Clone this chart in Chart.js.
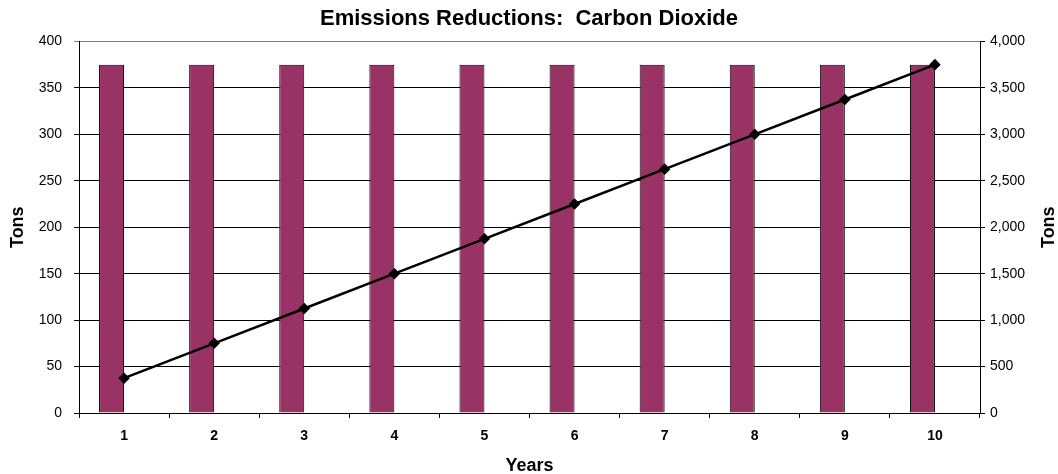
<!DOCTYPE html>
<html><head><meta charset="utf-8">
<script src="https://cdn.jsdelivr.net/npm/chart.js@4"></script>
<style>html,body{margin:0;padding:0;background:#fff}canvas{display:block}</style>
</head><body>
<canvas id="c" width="1058" height="474"></canvas>
<script>
const years = ['1','2','3','4','5','6','7','8','9','10'];
const annualTons = [375,375,375,375,375,375,375,375,375,375];
const cumulativeTons = [375,750,1125,1500,1875,2250,2625,3000,3375,3750];
const emptySlot = [null,null,null,null,null,null,null,null,null,null];
const rightTitle = 'Tons';
const FONT = "'Liberation Sans', Arial, sans-serif";
Chart.defaults.font.family = FONT;
Chart.defaults.color = '#000';

// Right axis title drawn reading bottom-to-top, like the left one
const rightTitlePlugin = {
  id: 'rightTitle',
  afterDraw(chart) {
    const s = chart.scales.y2;
    const ctx = chart.ctx;
    ctx.save();
    ctx.translate(s.right - 9, (chart.chartArea.top + chart.chartArea.bottom) / 2);
    ctx.rotate(-Math.PI / 2);
    ctx.font = 'bold 18px ' + FONT;
    ctx.fillStyle = '#000';
    ctx.textAlign = 'center';
    ctx.textBaseline = 'middle';
    ctx.fillText(rightTitle, 0, 0);
    ctx.restore();
  }
};

new Chart(document.getElementById('c'), {
  type: 'bar',
  data: {
    labels: years,
    datasets: [
      {type:'line', label:'Cumulative', data: cumulativeTons, yAxisID:'y2', borderColor:'#000', borderWidth:2.5,
       pointStyle:'rectRot', pointRadius:4, pointBackgroundColor:'#000', pointBorderColor:'#000', tension:0, order:0},
      {label:'Annual', data: annualTons, yAxisID:'y', backgroundColor:'#993366', borderColor:'#000', borderWidth:1,
       categoryPercentage:0.555, barPercentage:1, order:1},
      {label:'', data: emptySlot, yAxisID:'y', backgroundColor:'transparent', borderWidth:0,
       categoryPercentage:0.555, barPercentage:1, order:2}
    ]
  },
  plugins: [rightTitlePlugin],
  options: {
    responsive:false, animation:false,
    layout:{padding:{left:0,right:0,top:0,bottom:0}},
    plugins:{
      legend:{display:false}, tooltip:{enabled:false},
      title:{display:true, text:'Emissions Reductions:  Carbon Dioxide', font:{size:22, weight:'bold', lineHeight:1.2}, color:'#000', padding:{top:6,bottom:9}}
    },
    scales:{
      x:{
        grid:{display:true, drawOnChartArea:false, drawTicks:true, tickLength:5, color:'#000', offset:true},
        border:{color:'#000', width:1},
        ticks:{font:{size:14, weight:'bold'}, color:'#000', padding:10, maxRotation:0},
        title:{display:true, text:'Years', font:{size:18, weight:'bold', lineHeight:1}, color:'#000', padding:{top:0,bottom:-1}},
        afterFit(s){ s.height = 61; }
      },
      y:{
        position:'left', min:0, max:400,
        ticks:{stepSize:50, font:{size:14}, color:'#000', padding:12},
        grid:{color:(c)=> c.tick && c.tick.value===400 ? '#808080' : '#000', lineWidth:1, drawTicks:true, tickLength:5},
        border:{color:'#000', width:1},
        title:{display:true, text:'Tons', font:{size:18, weight:'bold', lineHeight:1}, color:'#000', padding:{top:9,bottom:0}},
        afterFit(s){ s.width = 79; }
      },
      y2:{
        position:'right', min:0, max:4000,
        ticks:{stepSize:500, font:{size:14}, color:'#000', padding:5,
          callback:(v)=>v.toLocaleString('en-US')},
        grid:{drawOnChartArea:false, drawTicks:true, tickLength:5, color:'#000'},
        border:{color:'#000', width:1},
        title:{display:false},
        afterFit(s){ s.width = 78; }
      }
    }
  }
});
</script>
</body></html>
